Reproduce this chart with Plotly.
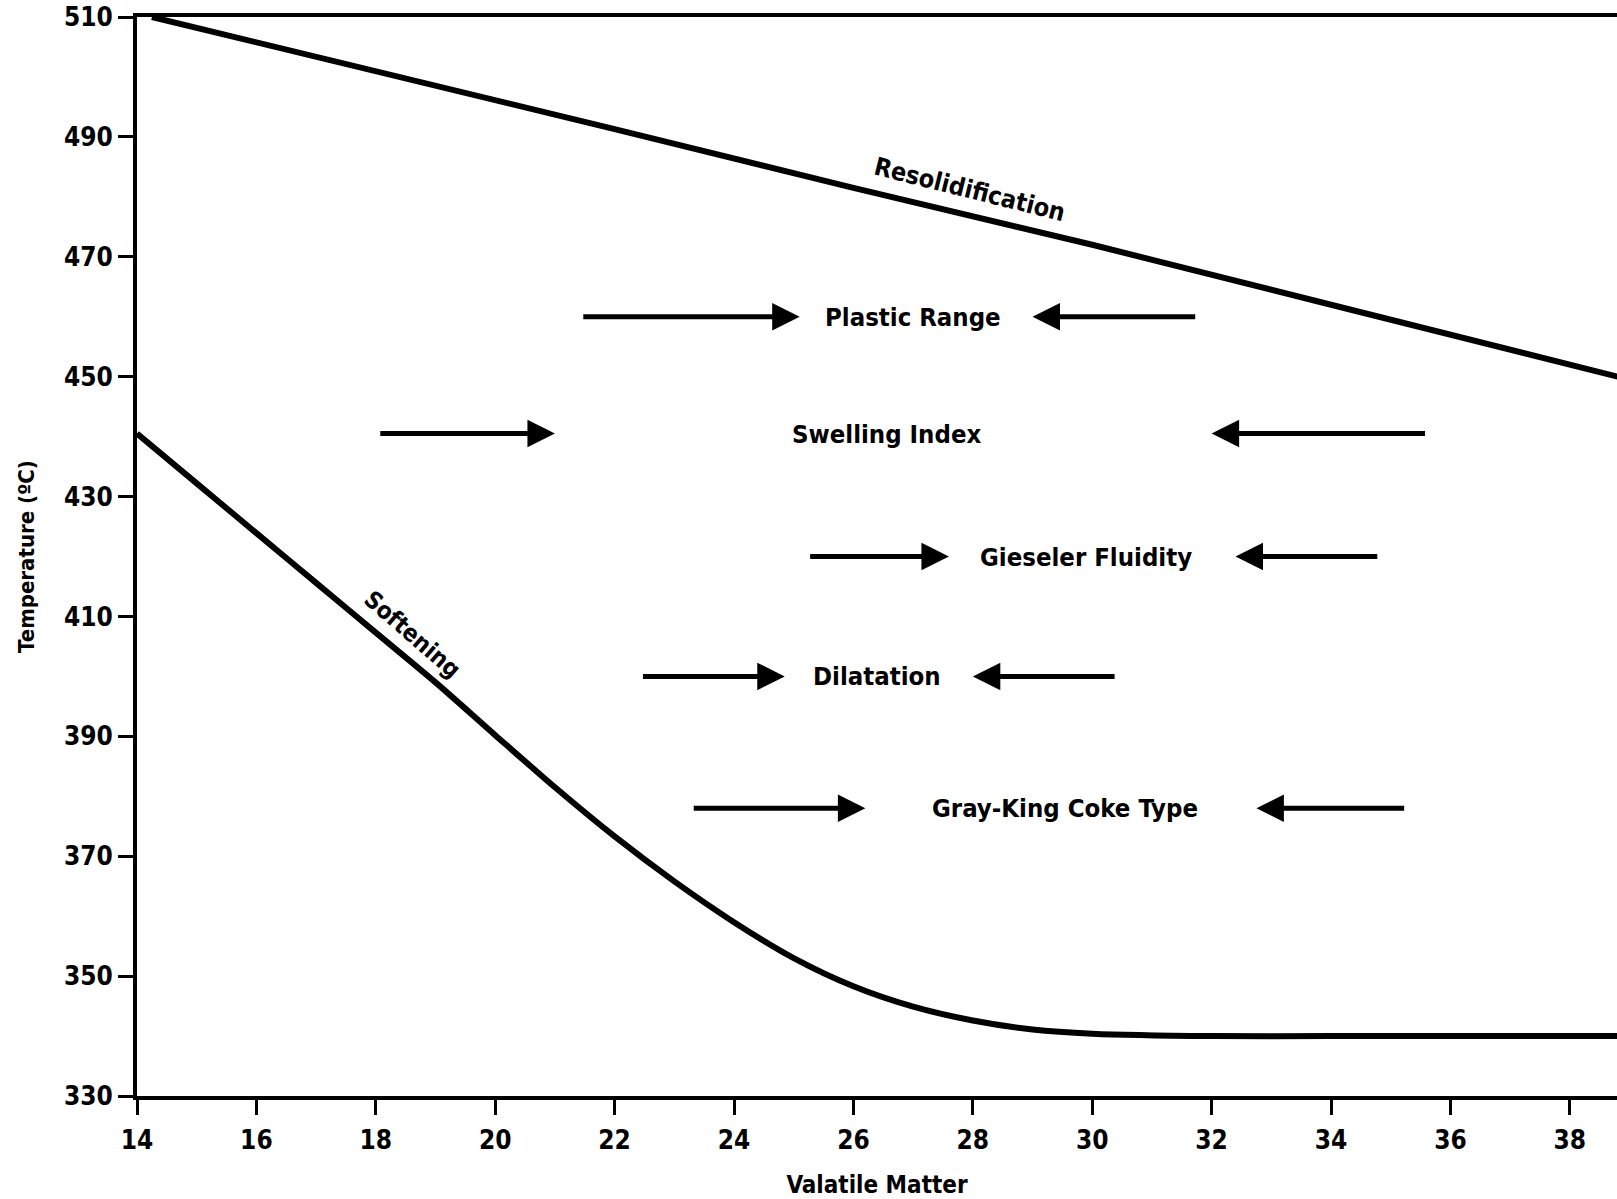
import plotly.graph_objects as go

# ---- data ----
resolid_vm = [14.25, 18, 22, 26, 30, 34, 38.8]
resolid_t = [510, 501, 491.3, 481.5, 472, 462, 450]

soft_vm = [14, 15, 16, 17, 18, 19, 20, 21, 22, 23, 24, 25, 26, 27, 28, 29, 30, 32, 34, 36, 38.8]
soft_t = [440.5, 432.2, 423.9, 415.6, 407.3, 399, 390.2, 381.5, 373.3, 365.8, 359, 353, 348.3, 344.9, 342.6, 341.1, 340.4, 340, 340, 340, 340]

props = ["Plastic Range", "Swelling Index", "Gieseler Fluidity", "Dilatation", "Gray-King Coke Type"]
prop_temp = [460, 440.5, 420, 400, 378]
prop_label_vm = [27.0, 26.55, 29.9, 26.4, 29.55]
left_tail = [21.45, 18.05, 25.25, 22.45, 23.3]
left_head = [25.1, 21.0, 27.6, 24.85, 26.2]
right_tail = [31.75, 35.6, 34.8, 30.4, 35.25]
right_head = [29.0, 32.0, 32.4, 28.0, 32.75]

x_ticks = list(range(14, 39, 2))
y_ticks = list(range(330, 511, 20))

FONT = "DejaVu Sans Condensed, Liberation Sans Narrow, Arial Narrow, sans-serif"

fig = go.Figure()
fig.add_trace(go.Scatter(x=resolid_vm, y=resolid_t, mode="lines",
                         line=dict(color="black", width=6), hoverinfo="skip", showlegend=False))
fig.add_trace(go.Scatter(x=soft_vm, y=soft_t, mode="lines", line_shape="spline",
                         line=dict(color="black", width=6, smoothing=0.8), hoverinfo="skip", showlegend=False))

annotations = []
for name, t, lx, lt, lh, rt, rh in zip(props, prop_temp, prop_label_vm, left_tail, left_head, right_tail, right_head):
    annotations.append(dict(x=lx, y=t, text=name, showarrow=False,
                            font=dict(family=FONT, size=25.5, color="black", weight="bold")))
    for tail, head in ((lt, lh), (rt, rh)):
        annotations.append(dict(x=head, y=t, ax=tail, ay=t, axref="x", ayref="y", xref="x", yref="y",
                                text="", showarrow=True, arrowhead=2, arrowsize=1.1,
                                arrowwidth=5, arrowcolor="black", standoff=0))

annotations.append(dict(x=27.95, y=481.3, text="Resolidification", showarrow=False, textangle=14,
                        font=dict(family=FONT, size=25, color="black", weight="bold")))
annotations.append(dict(x=18.6, y=407.0, text="Softening", showarrow=False, textangle=41,
                        font=dict(family=FONT, size=24, color="black", weight="bold")))

fig.update_layout(
    width=1617, height=1199,
    margin=dict(l=137, r=0, t=17, b=103),
    paper_bgcolor="white", plot_bgcolor="white",
    annotations=annotations,
    xaxis=dict(range=[14, 38.79], tickvals=x_ticks, ticktext=[str(v) for v in x_ticks],
               ticks="outside", ticklen=15, tickwidth=3, tickcolor="black", ticklabelstandoff=3,
               showline=True, linewidth=4, linecolor="black", mirror=True,
               showgrid=False, zeroline=False,
               tickfont=dict(family=FONT, size=26, color="black", weight="bold"),
               title=dict(text="Valatile Matter", standoff=26,
                          font=dict(family=FONT, size=24, color="black", weight="bold"))),
    yaxis=dict(range=[330, 510], tickvals=y_ticks, ticktext=[str(v) for v in y_ticks],
               ticks="outside", ticklen=15, tickwidth=3, tickcolor="black",
               showline=True, linewidth=4, linecolor="black",
               showgrid=False, zeroline=False,
               tickfont=dict(family=FONT, size=26, color="black", weight="bold"),
               title=dict(text="Temperature (ºC)", standoff=24,
                          font=dict(family=FONT, size=22, color="black", weight="bold"))),
)

fig.write_html("out.html")
